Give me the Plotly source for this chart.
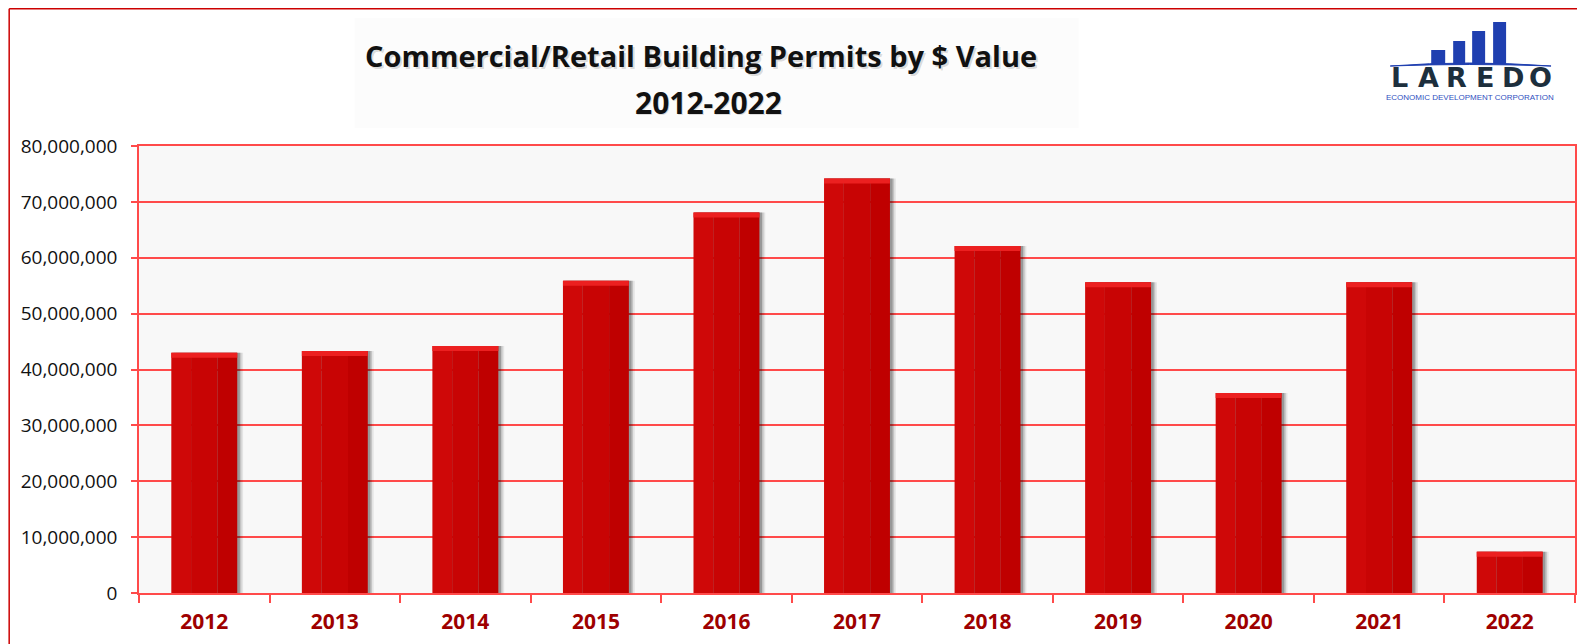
import plotly.graph_objects as go

years = ["2012", "2013", "2014", "2015", "2016", "2017", "2018", "2019", "2020", "2021", "2022"]
values = [43.0e6, 43.3e6, 44.2e6, 55.9e6, 68.1e6, 74.2e6, 62.1e6, 55.6e6, 35.8e6, 55.6e6, 7.4e6]
y_ticks = [0, 10e6, 20e6, 30e6, 40e6, 50e6, 60e6, 70e6, 80e6]
y_tick_text = ["0", "10,000,000", "20,000,000", "30,000,000", "40,000,000",
               "50,000,000", "60,000,000", "70,000,000", "80,000,000"]

# page has an 8px body margin; work in page pixel coordinates and convert
OFF = 8
W, H = 1585 - OFF, 644 - OFF
PL, PR, PT, PB = 139, 1577, 146, 593  # plot area in page pixels
ML, MT = PL - OFF, PT - OFF
MR, MB = W - (PR - OFF), H - (PB - OFF)
PW, PH = PR - PL, PB - PT


def px(x):
    return (x - PL) / PW


def py(y):
    return (PB - y) / PH


BW = 0.505
fig = go.Figure()

# soft drop shadow
for dx, a in [(0.045, 0.08), (0.032, 0.14), (0.02, 0.22)]:
    fig.add_trace(go.Bar(x=years, y=values, width=BW + 0.012, offset=-BW / 2 + dx - 0.012,
                         marker=dict(color=f"rgba(0,0,0,{a})", line=dict(width=0)),
                         hoverinfo="skip", showlegend=False))
# body of each bar: subtle left-to-right shading
strips = [(0.0, 0.3, "#cf0808"), (0.3, 0.7, "#c80404"), (0.7, 1.0, "#bf0000")]
for a, b, c in strips:
    fig.add_trace(go.Bar(x=years, y=values, width=BW * (b - a), offset=-BW / 2 + BW * a,
                         marker=dict(color=c, line=dict(width=0)), showlegend=False))
# bevelled top highlight
hl = 0.9e6
fig.add_trace(go.Bar(x=years, y=[hl] * len(values), base=[v - hl for v in values], width=BW,
                     offset=-BW / 2, marker=dict(color="#ec2020", line=dict(width=0)),
                     hoverinfo="skip", showlegend=False))

RED = "#ff4a4a"
fig.update_layout(
    width=W, height=H,
    margin=dict(l=ML, r=MR, t=MT, b=MB, pad=0),
    paper_bgcolor="white", plot_bgcolor="#f8f8f8",
    barmode="overlay",
    font=dict(family="Open Sans, Noto Sans, sans-serif", color="#111"),
    xaxis=dict(type="category", showgrid=False, showline=True, linecolor=RED, linewidth=1.5,
               mirror=True, ticks="outside", tickson="boundaries", ticklen=8, tickcolor=RED,
               tickwidth=1.5, ticklabelstandoff=9,
               tickfont=dict(family="Open Sans, sans-serif", size=21, color="#9e0000",
                             weight="bold")),
    yaxis=dict(range=[0, 80e6], tickvals=y_ticks, ticktext=y_tick_text, showgrid=True,
               gridcolor=RED, gridwidth=1.5, showline=True, linecolor=RED, linewidth=1.5,
               mirror=True, ticks="outside", ticklen=6, tickcolor=RED, tickwidth=1.5,
               zeroline=False, ticklabelstandoff=10,
               tickfont=dict(family="Open Sans, sans-serif", size=19, color="#111")),
)

shapes = []
BC = "#cc0000"
top_y = OFF + 0.8
shapes.append(dict(type="line", xref="paper", yref="paper", x0=px(9), x1=px(9), y0=py(top_y), y1=py(660),
                   line=dict(color=BC, width=1.5)))
shapes.append(dict(type="line", xref="paper", yref="paper", x0=px(9), x1=px(1583), y0=py(top_y), y1=py(top_y),
                   line=dict(color=BC, width=1.5)))
shapes.append(dict(type="line", xref="paper", yref="paper", x0=px(1583), x1=px(1583), y0=py(top_y), y1=py(660),
                   line=dict(color=BC, width=1.5)))
# faint title background
shapes.append(dict(type="rect", xref="paper", yref="paper", x0=px(355), x1=px(1080), y0=py(18), y1=py(128),
                   fillcolor="#fcfcfc", line=dict(width=0), layer="below"))
# logo bars
LB = "#1f3fb0"
for x0, x1, top in [(1433, 1447, 50), (1455, 1467, 41), (1474, 1487, 31), (1495, 1508, 22)]:
    shapes.append(dict(type="rect", xref="paper", yref="paper", x0=px(x0), x1=px(x1), y0=py(64), y1=py(top),
                       fillcolor=LB, line=dict(width=0)))
shapes.append(dict(type="path", xref="paper", yref="paper",
                   path=f"M {px(1392)},{py(66)} Q {px(1470)},{py(60)} {px(1553)},{py(66)} "
                        f"Q {px(1470)},{py(63)} {px(1392)},{py(66)} Z",
                   fillcolor=LB, line=dict(color=LB, width=1)))
fig.update_layout(shapes=shapes)

ann = []
TF = "Open Sans, sans-serif"
for dx, dy, col in [(1.5, 2, "rgba(0,0,0,0.14)"), (0, 0, "#111")]:
    ann.append(dict(text="<b>Commercial/Retail Building Permits by $ Value</b>", xref="paper", yref="paper",
                    x=px(702 + dx), y=py(55 + dy), showarrow=False, xanchor="center", yanchor="middle",
                    font=dict(family=TF, size=29, color=col)))
    ann.append(dict(text="<b>2012-2022</b>", xref="paper", yref="paper",
                    x=px(709 + dx), y=py(102 + dy), showarrow=False, xanchor="center", yanchor="middle",
                    font=dict(family=TF, size=30, color=col)))
letters = ["L", "A", "R", "E", "D", "O"]
lx = [1401, 1430, 1458, 1487, 1515, 1542]
for ch, x in zip(letters, lx):
    ann.append(dict(text=f"<b>{ch}</b>", xref="paper", yref="paper", x=px(x), y=py(78),
                    showarrow=False, xanchor="center", yanchor="middle",
                    font=dict(family="DejaVu Sans, sans-serif", size=27, color="#1d2f3d")))
ann.append(dict(text="ECONOMIC DEVELOPMENT CORPORATION", xref="paper", yref="paper", x=px(1472), y=py(98),
                showarrow=False, xanchor="center", yanchor="middle",
                font=dict(family="Liberation Sans Narrow, Liberation Sans, sans-serif", size=8,
                          color="#2f4fc0")))
fig.update_layout(annotations=ann)

fig.write_html("out.html")
